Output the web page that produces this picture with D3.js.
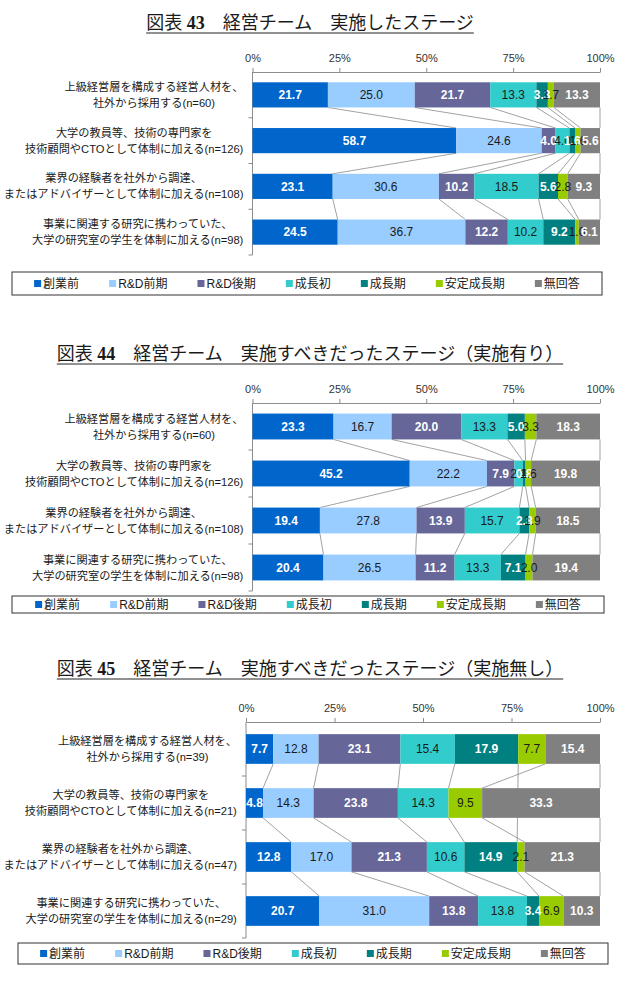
<!DOCTYPE html>
<html>
<head>
<meta charset="utf-8">
<script src="https://cdn.jsdelivr.net/npm/d3@7/dist/d3.min.js"></script>
<style>
    body { margin: 0; background: #fff; }
    text { font-family: "Liberation Sans", Arial, "Noto Sans CJK JP", sans-serif; fill: #1a1a1a; }
    .title { font-family: "Liberation Serif", "Noto Sans CJK JP", serif; font-size: 18px; }
    .cat { font-size: 11.2px; }
    .axis path, .axis line { stroke: #8c8c8c; }
    .axis text { font-size: 11px; fill: #333; }
</style>
</head>
<body>
<svg id="page" width="621" height="999"></svg>
<script>

// stages (series) shared by the three charts
const stages = ["創業前", "R&D前期", "R&D後期", "成長初", "成長期", "安定成長期", "無回答"];
const stageColors = ["#0066cc", "#99ccff", "#666699", "#33cccc", "#008080", "#99cc00", "#808080"];
const stageTextColors = ["#fff", "#1a1a1a", "#fff", "#1a1a1a", "#fff", "#1a1a1a", "#fff"];

const axisTicks = [0, 25, 50, 75, 100];

// 図表43
const title43 = ["図表 ", "43", "　経営チーム　実施したステージ"];
const categories43 = [
    ["上級経営層を構成する経営人材を、", "社外から採用する(n=60)"],
    ["大学の教員等、技術の専門家を", "技術顧問やCTOとして体制に加える(n=126)"],
    ["業界の経験者を社外から調達、", "またはアドバイザーとして体制に加える(n=108)"],
    ["事業に関連する研究に携わっていた、", "大学の研究室の学生を体制に加える(n=98)"]
];
const values43 = [
    [21.7, 25.0, 21.7, 13.3, 3.3, 1.7, 13.3],
    [58.7, 24.6, 4.0, 4.0, 1.6, 1.6, 5.6],
    [23.1, 30.6, 10.2, 18.5, 5.6, 2.8, 9.3],
    [24.5, 36.7, 12.2, 10.2, 9.2, 1.0, 6.1]
];

// 図表44
const title44 = ["図表 ", "44", "　経営チーム　実施すべきだったステージ（実施有り）"];
const categories44 = categories43;
const values44 = [
    [23.3, 16.7, 20.0, 13.3, 5.0, 3.3, 18.3],
    [45.2, 22.2, 7.9, 2.4, 0.8, 1.6, 19.8],
    [19.4, 27.8, 13.9, 15.7, 2.8, 1.9, 18.5],
    [20.4, 26.5, 11.2, 13.3, 7.1, 2.0, 19.4]
];

// 図表45
const title45 = ["図表 ", "45", "　経営チーム　実施すべきだったステージ（実施無し）"];
const categories45 = [
    ["上級経営層を構成する経営人材を、", "社外から採用する(n=39)"],
    ["大学の教員等、技術の専門家を", "技術顧問やCTOとして体制に加える(n=21)"],
    ["業界の経験者を社外から調達、", "またはアドバイザーとして体制に加える(n=47)"],
    ["事業に関連する研究に携わっていた、", "大学の研究室の学生を体制に加える(n=29)"]
];
const values45 = [
    [7.7, 12.8, 23.1, 15.4, 17.9, 7.7, 15.4],
    [4.8, 14.3, 23.8, 14.3, null, 9.5, 33.3],
    [12.8, 17.0, 21.3, 10.6, 14.9, 2.1, 21.3],
    [20.7, 31.0, 13.8, 13.8, 3.4, 6.9, 10.3]
];


class StackedBarChart {

    constructor(_svg, _title, _categories, _values, _layout) {
        this.svg = _svg;
        this.title = _title;
        this.categories = _categories;
        this.values = _values;
        this.layout = _layout;

        this.initVis();
    }

    initVis() {
        let vis = this;
        let L = vis.layout;

        vis.g = vis.svg.append("g");

        // Title with underline
        let t = vis.g.append("text")
            .attr("class", "title")
            .attr("x", 310)
            .attr("y", L.titleY)
            .attr("text-anchor", "middle");
        t.append("tspan").text(vis.title[0]);
        t.append("tspan").attr("font-weight", "bold").text(vis.title[1]);
        t.append("tspan").text(vis.title[2]);
        let bb = t.node().getBBox();
        vis.g.append("line")
            .attr("x1", bb.x).attr("x2", bb.x + bb.width)
            .attr("y1", L.titleY + 4).attr("y2", L.titleY + 4)
            .attr("stroke", "#222").attr("stroke-width", 1);

        // Scales
        vis.x = d3.scaleLinear().domain([0, 100]).range([L.left, L.right]);
        vis.y = d3.scaleBand()
            .domain(d3.range(vis.values.length))
            .range([L.top, L.bottom])
            .paddingInner(0.45)
            .paddingOuter(0.225);

        // Stack rows (100% stacked: normalise by row total)
        vis.rows = vis.values.map((row, i) => {
            let total = d3.sum(row.filter(v => v != null));
            let cum = 0;
            return row.map((v, k) => {
                let x0 = cum / total * 100;
                if (v != null) cum += v;
                return { row: i, k: k, v: v, x0: x0, x1: cum / total * 100 };
            });
        });

        vis.wrangleData();
    }

    wrangleData() {
        let vis = this;

        vis.segments = vis.rows.flat().filter(d => d.v != null);

        // series lines between consecutive bars (skip missing values)
        vis.seriesLines = [];
        stages.forEach((s, k) => {
            let valid = vis.rows.filter(r => r[k].v != null);
            for (let j = 0; j < valid.length - 1; j++) {
                vis.seriesLines.push({ a: valid[j][k], b: valid[j + 1][k] });
            }
        });

        vis.updateVis();
    }

    updateVis() {
        let vis = this;
        let L = vis.layout;
        let bw = vis.y.bandwidth();

        // Top axis
        vis.g.append("g")
            .attr("class", "axis")
            .attr("transform", "translate(0," + L.top + ")")
            .call(d3.axisTop(vis.x)
                .tickValues(axisTicks)
                .tickFormat(d => d + "%")
                .tickSize(4)
                .tickSizeOuter(0)
                .tickPadding(6))
            .call(g => g.select(".domain").attr("stroke", "#8c8c8c"));

        // Left axis line with ticks between categories
        let left = vis.g.append("g").attr("class", "axis");
        left.append("line")
            .attr("x1", L.left).attr("x2", L.left)
            .attr("y1", L.top).attr("y2", L.bottom);
        left.selectAll(".ct")
            .data(d3.range(1, vis.values.length + 1))
            .enter().append("line")
            .attr("class", "ct")
            .attr("x1", L.left - 4).attr("x2", L.left)
            .attr("y1", d => L.top + vis.y.step() * d)
            .attr("y2", d => L.top + vis.y.step() * d);

        // Series lines
        vis.g.selectAll(".sline")
            .data(vis.seriesLines)
            .enter().append("line")
            .attr("class", "sline")
            .attr("x1", d => vis.x(d.a.x1))
            .attr("y1", d => vis.y(d.a.row) + bw)
            .attr("x2", d => vis.x(d.b.x1))
            .attr("y2", d => vis.y(d.b.row))
            .attr("stroke", "#8a8a8a")
            .attr("stroke-width", 0.8);

        // Bars
        vis.g.selectAll(".bar")
            .data(vis.segments)
            .enter().append("rect")
            .attr("class", "bar")
            .attr("x", d => vis.x(d.x0))
            .attr("y", d => vis.y(d.row))
            .attr("width", d => vis.x(d.x1) - vis.x(d.x0))
            .attr("height", bw)
            .attr("fill", d => stageColors[d.k]);

        // Data labels
        vis.g.selectAll(".lbl")
            .data(vis.segments)
            .enter().append("text")
            .attr("class", "lbl")
            .attr("x", d => (vis.x(d.x0) + vis.x(d.x1)) / 2)
            .attr("y", d => vis.y(d.row) + bw / 2)
            .attr("dy", "0.36em")
            .attr("text-anchor", "middle")
            .style("font-size", "12px")
            .style("font-weight", d => stageTextColors[d.k] === "#fff" ? "bold" : "normal")
            .style("fill", d => stageTextColors[d.k])
            .text(d => d3.format(".1f")(d.v));

        // Category labels (two centred lines, block right aligned to the axis)
        vis.categories.forEach((lines, i) => {
            let cy = vis.y(i) + bw / 2;
            let txt = vis.g.append("text")
                .attr("class", "cat")
                .attr("text-anchor", "middle");
            lines.forEach((ln, j) => {
                txt.append("tspan")
                    .attr("x", 0)
                    .attr("y", cy + (j - (lines.length - 1) / 2) * 16)
                    .attr("dy", "0.36em")
                    .text(ln);
            });
            let w = txt.node().getBBox().width;
            txt.selectAll("tspan").attr("x", L.left - 9 - w / 2);
        });

        // Legend
        let lg = vis.g.append("g");
        lg.append("rect")
            .attr("x", L.legend.x).attr("y", L.legend.y)
            .attr("width", L.legend.w).attr("height", L.legend.h)
            .attr("fill", "none").attr("stroke", "#333").attr("stroke-width", 1);
        let items = lg.selectAll(".li")
            .data(stages)
            .enter().append("g")
            .attr("class", "li");
        items.append("rect")
            .attr("width", 7).attr("height", 7)
            .attr("y", -3.5)
            .attr("fill", (d, k) => stageColors[k]);
        items.append("text")
            .attr("x", 9)
            .attr("dy", "0.36em")
            .style("font-size", "12px")
            .text(d => d);
        let widths = items.nodes().map(n => n.getBBox().width);
        let gap = 30;
        let total = d3.sum(widths) + gap * (widths.length - 1);
        let cx = L.legend.x + L.legend.w / 2 - total / 2;
        let ly = L.legend.y + L.legend.h / 2;
        items.attr("transform", (d, k) => {
            let xx = cx + d3.sum(widths.slice(0, k)) + gap * k;
            return "translate(" + xx + "," + ly + ")";
        });
    }
}

let svg = d3.select("#page");
svg.append("rect").attr("width", 621).attr("height", 999).attr("fill", "#fff");

new StackedBarChart(svg, title43, categories43, values43, {
    titleY: 29, top: 72, bottom: 255, left: 252.5, right: 600,
    legend: { x: 12, y: 272, w: 590, h: 23 }
});
new StackedBarChart(svg, title44, categories44, values44, {
    titleY: 360, top: 403, bottom: 591, left: 252.5, right: 600,
    legend: { x: 12, y: 596, w: 592, h: 17 }
});
new StackedBarChart(svg, title45, categories45, values45, {
    titleY: 675, top: 722, bottom: 938, left: 246, right: 600,
    legend: { x: 18, y: 943, w: 590, h: 21 }
});

</script>
</body>
</html>
